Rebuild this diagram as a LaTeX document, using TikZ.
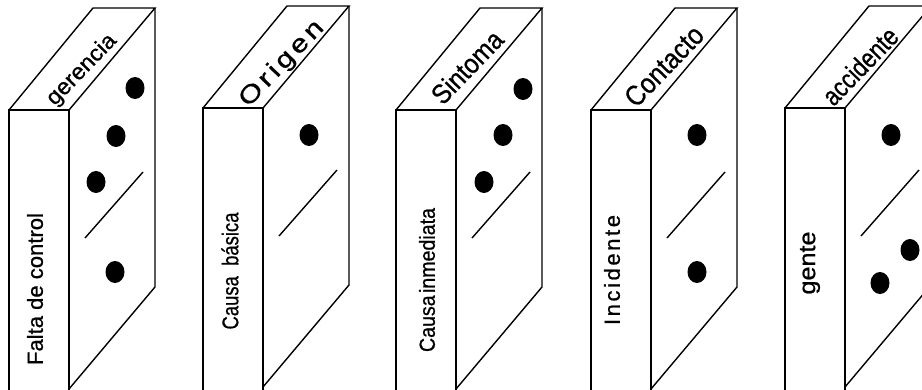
\documentclass[tikz,border=0pt]{standalone}
\usepackage{fontspec}
\setmainfont{Liberation Sans}[FakeBold=0.8]
\newfontfamily\spacedfont[LetterSpace=12, FakeBold=0.8]{Liberation Sans}
\usetikzlibrary{calc}

% a text stretched to a given length and total height
\newcommand{\fitlbl}[3]{\resizebox*{#1pt}{#2pt}{#3}}

% body of one domino block, origin at the top-left corner of its front face
\newcommand{\dominobody}{%
  \draw[edge] (0,0) rectangle (60,290);
  \draw[edge] (0,0) -- (84,-102) -- (146,-102) -- (60,0);
  \draw[edge] (146,-102) -- (146,177) -- (60,279);
  \draw[edge] (76,128) -- (134,62);
}

\tikzset{
  edge/.style={line width=1.4pt, line join=miter, line cap=butt},
  pip/.style={fill=black},
  frontlbl/.style={inner sep=0pt, rotate=90},
  toplbl/.style={inner sep=0pt, rotate=46},
}

\begin{document}
\begin{tikzpicture}[x=1pt, y=-1pt]
  \useasboundingbox (0,0) rectangle (922,389);
  \clip (0,0) rectangle (922,389);

  % block 1
  \begin{scope}[shift={(9,110)}]
    \dominobody
    \fill[pip] (126,-22) ellipse [x radius=9.5pt, y radius=11pt];
    \fill[pip] (107,26) ellipse [x radius=9.5pt, y radius=11pt];
    \fill[pip] (87,72) ellipse [x radius=9.5pt, y radius=11pt];
    \fill[pip] (106,162) ellipse [x radius=9.5pt, y radius=11pt];
    \node[frontlbl] (f1) at (26,179) {\fitlbl{152}{16}{Falta de control}};
    \node[toplbl] (t1) at (73,-40) {\fitlbl{90}{21}{gerencia}};
  \end{scope}

  % block 2
  \begin{scope}[shift={(203,108)}]
    \dominobody
    \fill[pip] (106,27) ellipse [x radius=9.5pt, y radius=11pt];
    \node[frontlbl] (f2) at (27,163) {\fitlbl{117}{17}{Causa\ \ básica}};
    \node[toplbl] (t2) at (79,-44) {\fitlbl{110}{23}{\spacedfont Origen}};
  \end{scope}

  % block 3
  \begin{scope}[shift={(396,110)}]
    \dominobody
    \fill[pip] (127,-21) ellipse [x radius=9.5pt, y radius=11pt];
    \fill[pip] (107,25) ellipse [x radius=9.5pt, y radius=11pt];
    \fill[pip] (88,72) ellipse [x radius=9.5pt, y radius=11pt];
    \node[frontlbl] (f3) at (31,170) {\fitlbl{144}{16}{Causa\hspace{0.12em}inmediata}};
    \node[toplbl] (t3) at (71,-43) {\fitlbl{90}{20}{Sintoma}};
  \end{scope}

  % block 4
  \begin{scope}[shift={(591,110)}]
    \dominobody
    \fill[pip] (106,25) ellipse [x radius=9.5pt, y radius=11pt];
    \fill[pip] (106,162) ellipse [x radius=9.5pt, y radius=11pt];
    \node[frontlbl] (f4) at (21,160) {\fitlbl{110}{16}{\spacedfont Incidente}};
    \node[toplbl] (t4) at (73,-44) {\fitlbl{100}{20}{Contacto}};
  \end{scope}

  % block 5
  \begin{scope}[shift={(785,108)}]
    \dominobody
    \fill[pip] (106,27) ellipse [x radius=9.5pt, y radius=11pt];
    \fill[pip] (125,142) ellipse [x radius=9.5pt, y radius=11pt];
    \fill[pip] (95,175) ellipse [x radius=9.5pt, y radius=11pt];
    \node[frontlbl] (f5) at (25,155) {\fitlbl{63}{20}{gente}};
    \node[toplbl] (t5) at (75,-42) {\fitlbl{96}{20}{accidente}};
  \end{scope}
\end{tikzpicture}
\end{document}
